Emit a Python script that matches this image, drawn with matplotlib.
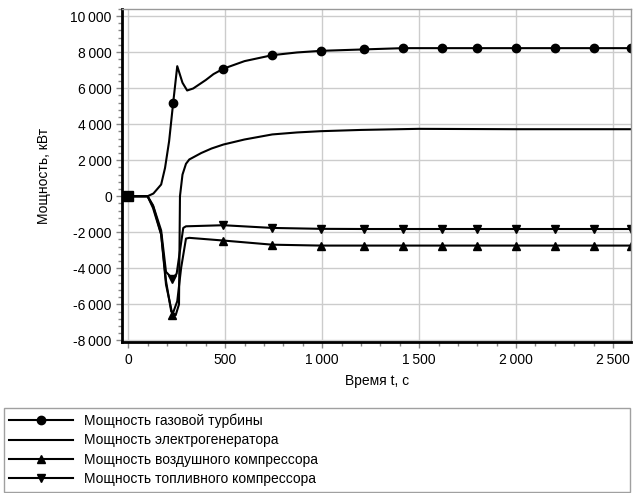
import matplotlib.pyplot as plt
from matplotlib.ticker import MultipleLocator, FuncFormatter

plt.rcParams['font.family'] = ['Liberation Sans', 'DejaVu Sans']

# time points (s) and power (kW)
t_gt = [0, 100, 130, 170, 190, 211, 232, 253, 280, 304, 335, 400, 440, 491, 600, 743, 870,
        992, 1216, 1417, 1617, 1800, 2000, 2200, 2400, 2590]
p_gt = [0, 0, 150, 650, 1570, 3050, 5190, 7220, 6300, 5870, 5980, 6450, 6780, 7080, 7500,
        7830, 7980, 8070, 8150, 8220, 8220, 8220, 8220, 8220, 8220, 8220]
mk_gt = [0, 6, 13, 15, 17, 18, 19, 20, 21, 22, 23, 24, 25]

t_eg = [0, 100, 130, 170, 195, 222, 245, 262, 267, 280, 298, 315, 377, 430, 491, 600, 743,
        870, 992, 1200, 1495, 2000, 2590]
p_eg = [0, 0, -600, -2100, -4700, -6400, -6600, -6000, 0, 1200, 1800, 2040, 2400, 2650,
        2870, 3150, 3430, 3540, 3610, 3680, 3740, 3720, 3720]

t_ac = [0, 100, 128, 170, 195, 228, 253, 273, 298, 315, 491, 743, 992, 1216, 1417, 1617,
        1800, 2000, 2200, 2400, 2590]
p_ac = [0, 0, -650, -2130, -4900, -6570, -5830, -3980, -2350, -2310, -2460, -2690, -2740,
        -2740, -2740, -2740, -2740, -2740, -2740, -2740, -2740]
mk_ac = [0, 5, 10, 11, 12, 13, 14, 15, 16, 17, 18, 19, 20]

t_fc = [0, 100, 128, 170, 195, 228, 250, 270, 284, 298, 491, 743, 992, 1216, 1417, 1617,
        1800, 2000, 2200, 2400, 2590]
p_fc = [0, 0, -500, -1900, -4200, -4570, -4300, -2800, -1760, -1670, -1610, -1760, -1810,
        -1820, -1820, -1820, -1820, -1820, -1820, -1820, -1820]
mk_fc = [0, 5, 10, 11, 12, 13, 14, 15, 16, 17, 18, 19, 20]

labels = ['Мощность газовой турбины', 'Мощность электрогенератора',
          'Мощность воздушного компрессора', 'Мощность топливного компрессора']

fig = plt.figure(figsize=(6.33, 4.93), dpi=100)
ax = fig.add_axes([0.193, 0.306, 0.804, 0.676])

ax.plot(t_gt, p_gt, color='black', lw=1.5, marker='o', ms=6, markevery=mk_gt, label=labels[0])
ax.plot(t_eg, p_eg, color='black', lw=1.5, label=labels[1])
ax.plot(t_ac, p_ac, color='black', lw=1.5, marker='^', ms=6, markevery=mk_ac, label=labels[2])
ax.plot(t_fc, p_fc, color='black', lw=1.5, marker='v', ms=6, markevery=mk_fc, label=labels[3])
ax.plot([0], [0], color='black', marker='s', ms=7)

ax.set_xlim(-31, 2593)
ax.set_ylim(-8100, 10400)
ax.xaxis.set_major_locator(MultipleLocator(500))
ax.xaxis.set_minor_locator(MultipleLocator(100))
ax.yaxis.set_major_locator(MultipleLocator(2000))
ax.yaxis.set_minor_locator(MultipleLocator(400))
fmt = FuncFormatter(lambda v, p: f'{int(v):,}'.replace(',', '\u2009') if v >= 0
                    else '-' + f'{int(-v):,}'.replace(',', '\u2009'))
ax.xaxis.set_major_formatter(fmt)
ax.yaxis.set_major_formatter(fmt)
ax.tick_params(which='major', length=4, width=1, color='#888888', labelsize=10)
ax.tick_params(which='minor', length=3, width=1, color='#888888')
ax.grid(True, which='major', color='#cccccc', lw=1)
ax.set_axisbelow(True)
for s in ['top', 'right']:
    ax.spines[s].set_color('#999999')
    ax.spines[s].set_linewidth(1)
for s in ['left', 'bottom']:
    ax.spines[s].set_color('black')
    ax.spines[s].set_linewidth(2)

ax.set_xlabel('Время t, с', fontsize=10, labelpad=5)
ax.set_ylabel('Мощность, кВт', fontsize=10, labelpad=14)

handles, _ = ax.get_legend_handles_labels()
fig.legend(handles, labels, loc='lower left', bbox_to_anchor=(0.006, 0.003, 0.99, 0.17),
           mode='expand', fontsize=10, handlelength=4.6, frameon=True, fancybox=False,
           edgecolor='#888888', borderaxespad=0, labelspacing=0.38, borderpad=0.4,
           handletextpad=0.8)

fig.savefig('out.png', dpi=100)
